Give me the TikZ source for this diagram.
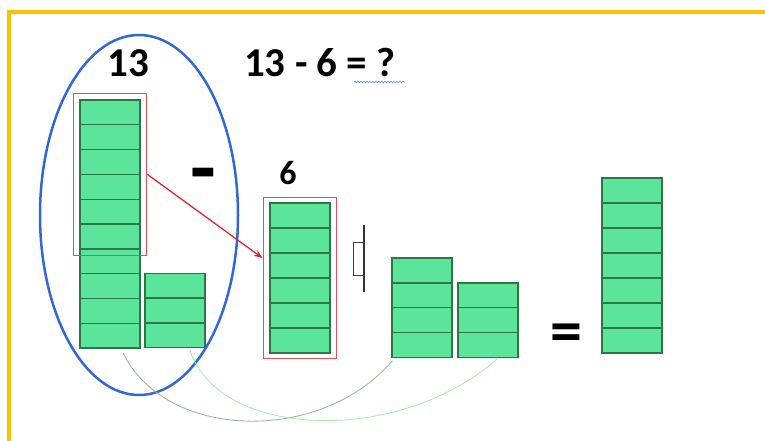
\documentclass[tikz,border=0pt]{standalone}
\usepackage{fontspec}
\setmainfont{Carlito}
\usepackage{tikz}
\usetikzlibrary{arrows.meta, positioning, calc, fit, shapes.geometric, decorations.pathmorphing}
\usepackage{xcolor}
\definecolor{Mint}{HTML}{5BE49A}
\definecolor{MintEdge}{HTML}{2E7548}
\definecolor{Frame}{HTML}{FFC000}
\definecolor{Ring}{HTML}{3366D6}
\definecolor{TakeRed}{HTML}{E0505C}
\definecolor{ArrowRed}{HTML}{E4252F}
\definecolor{LinkGrey}{HTML}{9AAE9C}
\definecolor{LinkGreen}{HTML}{A6EBA6}

\tikzset{
  brick/.style={draw=MintEdge, fill=Mint, line width=1.4pt, inner sep=0pt,
    minimum width=60pt, minimum height=24.8pt},
  takebox/.style={draw=TakeRed, line width=1.3pt, inner sep=0pt},
  bignum/.style={font=\fontsize{41}{46}\selectfont\bfseries, text=black, inner sep=0pt}
}

\begin{document}
\begin{tikzpicture}[>=Stealth, x=1pt, y=-1pt]
  \useasboundingbox (0,0) rectangle (765,441);
  \draw[Frame, line width=4pt] (9,441) -- (9,12) -- (765,12);

  \node[draw=Ring, line width=2.5pt, ellipse, minimum width=198pt, minimum height=360pt,
    inner sep=0pt] (whole) at (139,215) {};

  % thirteen
  \foreach \i in {1,...,10} {
    \node[brick] (l\i) at (110, 87.6+24.8*\i) {};
  }
  \foreach \i in {1,2,3} {
    \node[brick] (r\i) at (175, 260.8+24.8*\i) {};
  }
  \node[takebox, fit=(l1)(l6), inner xsep=6pt, inner ysep=6pt] (take13) {};

  % six
  \foreach \i in {1,...,6} {
    \node[brick] (m\i) at (300, 190.5+25*\i) {};
  }
  \node[takebox, fit=(m1)(m6), inner xsep=6pt, inner ysep=5pt] (take6) {};

  % what is left
  \foreach \i in {1,...,4} {
    \node[brick] (a\i) at (422, 245.6+24.8*\i) {};
  }
  \foreach \i in {1,2,3} {
    \node[brick] (b\i) at (488, 270.4+24.8*\i) {};
  }
  \foreach \i in {1,...,7} {
    \node[brick, minimum height=25pt] (s\i) at (632, 165.5+25*\i) {};
  }

  \node[bignum, anchor=base] (n13) at (128,77) {13};
  \node[bignum, anchor=base west] (sum) at (244,77) {13 - 6 = ?};
  \draw[Ring!70, line width=0.7pt, decorate,
    decoration={snake, amplitude=0.8pt, segment length=3pt}] (354,82) -- (405,82);
  \node[bignum, font=\fontsize{34}{38}\selectfont\bfseries, anchor=base] (n6) at (288,184) {6};
  \node[bignum, font=\fontsize{84}{88}\selectfont\bfseries] (minus) at (203,182) {-};
  \node[bignum, font=\fontsize{64}{70}\selectfont\bfseries] (equals) at (566,338) {=};

  % broken arrow glyph
  \draw[black!75, line width=1pt] (364,242) -- (353,242) -- (353,275) -- (364,275);
  \draw[black!80, line width=1.8pt] (364,225) -- (364,292);

  \draw[->, ArrowRed, line width=1.3pt] (take13.east) -- (take6.152);
  \draw[LinkGrey, line width=0.8pt] ($(l10.south)+(13,4)$) .. controls (165,440) and (320,445) .. ($(a4.south west)+(1,3)$);
  \draw[LinkGreen, line width=0.8pt] ($(r3.south)+(15,2)$) .. controls (220,440) and (400,445) .. ($(b3.south)+(9,1)$);
\end{tikzpicture}
\end{document}
